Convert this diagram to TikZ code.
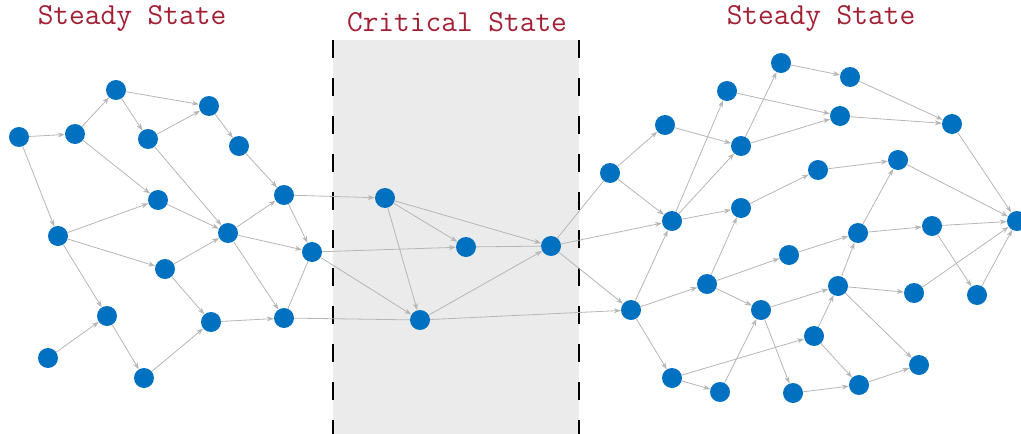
\documentclass[tikz,border=0pt]{standalone}
\usepackage{fontspec}
\usetikzlibrary{arrows.meta}
\definecolor{nodeblue}{RGB}{0,112,192}
\definecolor{edgegray}{RGB}{182,182,182}
\definecolor{titlered}{RGB}{163,31,52}
\definecolor{bandgray}{RGB}{235,235,235}
\tikzset{
  vtx/.style={circle,fill=nodeblue,minimum size=20pt,inner sep=0pt},
  arc/.style={draw=edgegray,line width=0.8pt,-{Stealth[length=7pt,width=5pt]}},
  link/.style={draw=edgegray,line width=0.8pt},
  ttl/.style={text=titlered,font=\ttfamily\fontsize{30.5}{32}\selectfont,inner sep=0pt},
  sep/.style={draw=black,line width=2.6pt,dash pattern=on 18pt off 20pt}
}
\begin{document}
\begin{tikzpicture}[x=1pt,y=-1pt]
\useasboundingbox (0,0) rectangle (1021,434);
\fill[bandgray] (333,40) rectangle (579,434);
\coordinate (s1a) at (333,40); \coordinate (s1b) at (333,434);
\coordinate (s2a) at (579,40); \coordinate (s2b) at (579,434);
\draw[sep] (s1a) -- (s1b);
\draw[sep] (s2a) -- (s2b);
\node[ttl] (t1) at (132,18) {Steady State};
\node[ttl] (t2) at (457,22) {Critical State};
\node[ttl] (t3) at (821,18) {Steady State};
% left
\node[vtx] (L1) at (19,137) {};
\node[vtx] (L2) at (75,134) {};
\node[vtx] (L3) at (116,90) {};
\node[vtx] (L4) at (148,139) {};
\node[vtx] (L5) at (209,106) {};
\node[vtx] (L6) at (239,146) {};
\node[vtx] (L7) at (158,200) {};
\node[vtx] (L8) at (58,236) {};
\node[vtx] (L9) at (228,233) {};
\node[vtx] (L10) at (284,195) {};
\node[vtx] (L11) at (312,252) {};
\node[vtx] (L12) at (165,269) {};
\node[vtx] (L13) at (107,316) {};
\node[vtx] (L14) at (48,358) {};
\node[vtx] (L15) at (144,378) {};
\node[vtx] (L16) at (211,322) {};
\node[vtx] (L17) at (284,318) {};
% critical
\node[vtx] (C1) at (385,198) {};
\node[vtx] (C2) at (466,247) {};
\node[vtx] (C3) at (420,320) {};
\node[vtx] (C4) at (551,246) {};
% right
\node[vtx] (R1) at (610,173) {};
\node[vtx] (R2) at (665,125) {};
\node[vtx] (R3) at (727,91) {};
\node[vtx] (R4) at (781,63) {};
\node[vtx] (R5) at (850,77) {};
\node[vtx] (R6) at (741,146) {};
\node[vtx] (R7) at (840,116) {};
\node[vtx] (R8) at (952,124) {};
\node[vtx] (R9) at (672,221) {};
\node[vtx] (R10) at (741,208) {};
\node[vtx] (R11) at (818,170) {};
\node[vtx] (R12) at (898,160) {};
\node[vtx] (R13) at (1017,221) {};
\node[vtx] (R14) at (858,233) {};
\node[vtx] (R15) at (932,226) {};
\node[vtx] (R16) at (789,255) {};
\node[vtx] (R17) at (631,310) {};
\node[vtx] (R18) at (707,284) {};
\node[vtx] (R19) at (761,310) {};
\node[vtx] (R20) at (838,286) {};
\node[vtx] (R21) at (914,293) {};
\node[vtx] (R22) at (977,295) {};
\node[vtx] (R23) at (814,336) {};
\node[vtx] (R24) at (672,378) {};
\node[vtx] (R25) at (720,392) {};
\node[vtx] (R26) at (793,393) {};
\node[vtx] (R27) at (859,385) {};
\node[vtx] (R28) at (919,365) {};
% left edges
\foreach \a/\b in {L1/L2,L1/L8,L2/L3,L2/L7,L3/L5,L3/L4,L4/L5,L4/L9,L5/L6,L6/L10,
  L7/L9,L8/L7,L8/L12,L8/L13,L9/L10,L9/L11,L9/L17,L10/L11,L12/L9,L12/L16,
  L13/L15,L14/L13,L15/L16,L16/L17}
  \draw[arc] (\a) -- (\b);
\draw[link] (L17) -- (L11);
% critical edges
\foreach \a/\b in {L10/C1,L11/C2,L11/C3,C1/C2,C1/C4,C1/C3,C3/C4,C3/R17,C4/R17,C4/R9}
  \draw[arc] (\a) -- (\b);
\draw[link] (L17) -- (C3);
\draw[link] (C2) -- (C4);
\draw[link] (C4) -- (R1);
% right edges
\foreach \a/\b in {R1/R2,R1/R9,R2/R6,R9/R3,R9/R6,R9/R10,R6/R4,R6/R7,R3/R7,R4/R5,
  R5/R8,R7/R8,R8/R13,R11/R12,R12/R13,R10/R11,R14/R12,R14/R15,R15/R13,R16/R14,
  R18/R10,R17/R9,R21/R13,R22/R13,R15/R22,R20/R14,R20/R21,R20/R28,R19/R20,R19/R26,
  R18/R16,R18/R19,R17/R18,R17/R24,R24/R25,R24/R23,R25/R19,R23/R20,R23/R27,
  R26/R27,R27/R28}
  \draw[arc] (\a) -- (\b);
\end{tikzpicture}
\end{document}
